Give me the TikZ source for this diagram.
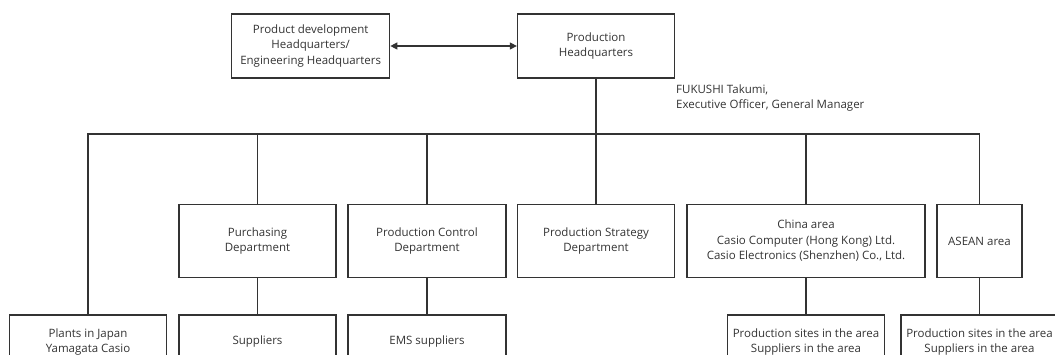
\documentclass[tikz,border=0pt]{standalone}
\usepackage{fontspec}
\setmainfont{Open Sans}
\usetikzlibrary{arrows.meta}
\definecolor{ink}{HTML}{333333}
\begin{document}
\begin{tikzpicture}[x=1pt,y=-1pt,
  box/.style={draw=ink, line width=1.3pt, text=ink, align=center,
    font=\fontsize{11.5}{15.5}\selectfont, inner sep=0pt,
    minimum width=157pt},
  toprow/.style={box, minimum height=64pt},
  midrow/.style={box, minimum height=73pt},
  lowrow/.style={box, minimum height=54pt},
  link/.style={draw=ink, line width=1.3pt}]
\useasboundingbox (0,0) rectangle (1055,355);
\clip (0,0) rectangle (1055,355);

% headquarters level
\node[toprow, minimum width=158pt] (pd) at (310.7,46) {Product development\\Headquarters/\\Engineering Headquarters};
\node[toprow] (hq) at (596,46) {Production\\Headquarters};
\node[anchor=west, align=left, text=ink, inner sep=0pt,
  font=\fontsize{11.5}{15.5}\selectfont] (gm) at (676,98) {FUKUSHI Takumi,\\Executive Officer, General Manager};

% departments
\node[midrow] (pur) at (257.5,241) {Purchasing\\Department};
\node[midrow, minimum width=158pt] (pc) at (427,241) {Production Control\\Department};
\node[midrow] (ps) at (596,241) {Production Strategy\\Department};
\node[midrow, minimum width=238pt] (cn) at (806,241) {China area\\Casio Computer (Hong Kong) Ltd.\\Casio Electronics (Shenzhen) Co., Ltd.};
\node[midrow, minimum width=85pt] (as) at (979.5,241) {ASEAN area};

% sites and suppliers
\node[lowrow] (pj) at (88,342) {Plants in Japan\\Yamagata Casio};
\node[lowrow] (sup) at (257.5,342) {Suppliers};
\node[lowrow, minimum width=158pt] (ems) at (427,342) {EMS suppliers};
\node[lowrow] (cs) at (806,342) {Production sites in the area\\Suppliers in the area};
\node[lowrow] (asx) at (979.5,342) {Production sites in the area\\Suppliers in the area};

% connectors
\draw[link, {Triangle[length=7pt,width=7pt]}-{Triangle[length=7pt,width=7pt]}] (pd.east) -- (hq.west);
\coordinate (bus) at (596,134);
\draw[link] (hq.south) -- (ps.north);
\draw[link] (pj.north) |- (bus) -| (as.north);
\draw[link] (pur.north) -- (pur.north |- bus);
\draw[link] (pc.north) -- (pc.north |- bus);
\draw[link] (cn.north) -- (cn.north |- bus);
\draw[link] (pur.south) -- (sup.north);
\draw[link] (pc.south) -- (ems.north);
\draw[link] (cn.south) -- (cs.north);
\draw[link] (as.south) -- (asx.north);
\end{tikzpicture}
\end{document}
